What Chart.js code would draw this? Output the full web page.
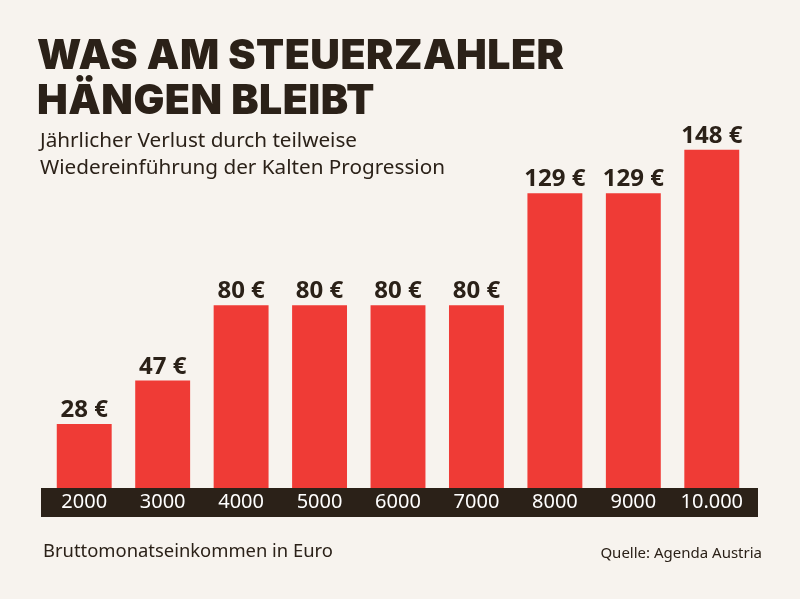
<!DOCTYPE html>
<html><head><meta charset="utf-8">
<script src="https://cdn.jsdelivr.net/npm/chart.js@4"></script>
<style>
html,body{margin:0;padding:0;background:#f7f3ee;}
#wrap{position:relative;width:800px;height:599px;overflow:hidden;}
canvas{position:absolute;left:0;top:0;}
.t{position:absolute;white-space:nowrap;color:#2b2118;}
#title{left:37px;top:32px;font-family:Inter,"DejaVu Sans",sans-serif;font-weight:900;font-size:41px;line-height:45px;letter-spacing:0.5px;}
#sub{left:40px;top:126px;font-family:"Noto Sans",sans-serif;font-size:20.7px;line-height:27px;}
#xl{left:43px;top:537px;font-family:"Noto Sans",sans-serif;font-size:18.4px;}
#src{right:38px;top:542px;font-family:"Noto Sans",sans-serif;font-size:15px;}
</style></head>
<body><div id="wrap">
<canvas id="c" width="800" height="599"></canvas>
<div class="t" id="title">WAS AM STEUERZAHLER<br>HÄNGEN BLEIBT</div>
<div class="t" id="sub">Jährlicher Verlust durch teilweise<br>Wiedereinführung der Kalten Progression</div>
<div class="t" id="xl">Bruttomonatseinkommen in Euro</div>
<div class="t" id="src">Quelle: Agenda Austria</div>
</div>
<script>
const categories = ["2000","3000","4000","5000","6000","7000","8000","9000","10.000"];
const values = [28,47,80,80,80,80,129,129,148];
const valueLabels = ["28 €","47 €","80 €","80 €","80 €","80 €","129 €","129 €","148 €"];

const bandPlugin = {
  id:'band',
  beforeDraw(chart){
    const {ctx, chartArea} = chart;
    ctx.save();
    ctx.fillStyle = '#2b2118';
    ctx.fillRect(41, chartArea.bottom, 717, 29);
    ctx.restore();
  }
};
const labelPlugin = {
  id:'vlabels',
  afterDatasetsDraw(chart){
    const {ctx} = chart;
    const meta = chart.getDatasetMeta(0);
    ctx.save();
    ctx.fillStyle = '#2b2118';
    ctx.font = 'bold 24px "Noto Sans", sans-serif';
    ctx.textAlign = 'center';
    ctx.textBaseline = 'alphabetic';
    meta.data.forEach((bar,i)=>{
      ctx.fillText(valueLabels[i], bar.x, bar.y - 7);
    });
    ctx.restore();
  }
};

new Chart(document.getElementById('c'), {
  type:'bar',
  data:{labels:categories, datasets:[{data:values, backgroundColor:'#ef3b36', borderWidth:0, barPercentage:0.7, categoryPercentage:1}]},
  options:{
    responsive:false, animation:false,
    layout:{padding:{left:45,right:49,top:31,bottom:82}},
    plugins:{legend:{display:false}, tooltip:{enabled:false}},
    scales:{
      y:{display:false, min:0, max:200},
      x:{
        grid:{display:false, drawTicks:false}, border:{display:false},
        ticks:{color:'#ffffff', font:{family:'"Noto Sans", sans-serif', size:20}, padding:2, maxRotation:0, autoSkip:false},
        afterFit(s){ s.height = 29; }
      }
    }
  },
  plugins:[bandPlugin, labelPlugin]
});
</script>
</body></html>
